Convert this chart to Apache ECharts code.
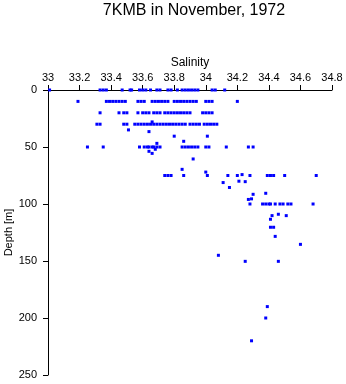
<!DOCTYPE html>
<html><head><meta charset="utf-8">
<script src="https://cdn.jsdelivr.net/npm/echarts@6/dist/echarts.min.js"></script>
<style>html,body{margin:0;padding:0;background:#fff}#c{width:346px;height:384px}</style>
</head><body><div id="c"></div>
<script>
const xTicks = [33, 33.2, 33.4, 33.6, 33.8, 34, 34.2, 34.4, 34.6, 34.8];
const yTicks = [0, 50, 100, 150, 200, 250];
const depthLevels = [0, 10, 20, 30, 50, 75, 100];
const sal0 = [33.01, 33.33, 33.35, 33.37, 33.47, 33.52, 33.53, 33.58, 33.60, 33.62, 33.65, 33.69, 33.71, 33.76, 33.78, 33.82, 33.85, 33.87, 33.89, 33.91, 33.93, 33.95, 34.04, 34.06, 34.12];
const sal10 = [33.19, 33.37, 33.39, 33.41, 33.43, 33.45, 33.47, 33.49, 33.57, 33.59, 33.61, 33.66, 33.68, 33.70, 33.72, 33.74, 33.76, 33.80, 33.82, 33.84, 33.86, 33.88, 33.90, 33.92, 33.94, 34.00, 34.02, 34.04, 34.20];
const sal20 = [33.33, 33.45, 33.48, 33.50, 33.57, 33.60, 33.62, 33.64, 33.67, 33.69, 33.71, 33.74, 33.76, 33.78, 33.80, 33.82, 33.84, 33.86, 33.88, 33.90, 33.98, 34.00, 34.02, 34.04];
const sal30 = [33.31, 33.33, 33.48, 33.50, 33.55, 33.57, 33.59, 33.61, 33.63, 33.65, 33.67, 33.69, 33.71, 33.73, 33.75, 33.77, 33.79, 33.81, 33.83, 33.85, 33.87, 33.90, 33.92, 33.94, 33.96, 33.99, 34.01, 34.03, 34.05, 34.07];
const sal50 = [33.25, 33.35, 33.58, 33.61, 33.63, 33.64, 33.66, 33.67, 33.69, 33.71, 33.85, 33.87, 33.89, 33.91, 33.93, 33.95, 34.00, 34.02, 34.13, 34.27, 34.30];
const sal75 = [33.74, 33.76, 33.78, 33.86, 34.01, 34.14, 34.20, 34.28, 34.39, 34.41, 34.43, 34.50, 34.70];
const sal100 = [34.28, 34.36, 34.38, 34.40, 34.41, 34.44, 34.47, 34.49, 34.52, 34.54, 34.68];
const otherSal = [33.66, 33.51, 33.64, 33.80, 34.01, 33.86, 33.69, 33.68, 33.64, 33.66, 33.92, 33.85, 34.00, 34.23, 34.21, 34.25, 34.11, 34.15, 34.38, 34.30, 34.27, 34.29, 34.46, 34.42, 34.51, 34.41, 34.41, 34.43, 34.44, 34.60, 34.08, 34.25, 34.46, 34.39, 34.38, 34.29];
const otherDepth = [28, 35, 36.5, 40.5, 40.5, 45, 46.8, 52, 53.8, 55.6, 60.5, 69.6, 72, 74.2, 80, 80.4, 81.2, 85.5, 90.6, 91.5, 96, 95.5, 109, 110.2, 110.2, 113.4, 120.4, 120.4, 128.4, 135.4, 145, 150.3, 150.3, 190, 200, 220];

const groups = [sal0, sal10, sal20, sal30, sal50, sal75, sal100];
const data = [];
groups.forEach((g, i) => g.forEach(s => data.push([s, depthLevels[i]])));
otherSal.forEach((s, i) => data.push([s, otherDepth[i]]));

const font = 'Liberation Sans, Arial, Helvetica, sans-serif';
const chart = echarts.init(document.getElementById('c'), null, {renderer: 'canvas'});
chart.setOption({
  animation: false,
  backgroundColor: '#fff',
  title: {
    text: '7KMB in November, 1972',
    left: 189, top: -2, textAlign: 'center',
    textStyle: {fontFamily: font, fontSize: 16, fontWeight: 'normal', color: '#000'}
  },
  grid: {left: 48, right: 14, top: 90, bottom: 9, containLabel: false, outerBoundsMode: 'none'},
  xAxis: {
    type: 'value', position: 'top', min: xTicks[0], max: xTicks[xTicks.length - 1], interval: 0.2,
    name: 'Salinity', nameLocation: 'middle', nameGap: 21, nameMoveOverlap: false,
    nameTextStyle: {fontFamily: font, fontSize: 12, color: '#000'},
    axisLine: {show: true, onZero: false, lineStyle: {color: '#000', width: 1}},
    axisTick: {show: true, length: 5, lineStyle: {color: '#000'}},
    axisLabel: {fontFamily: font, fontSize: 11, color: '#000', margin: 7,
      formatter: v => String(Math.round(v * 10) / 10)},
    splitLine: {show: false}
  },
  yAxis: {
    type: 'value', inverse: true, min: yTicks[0], max: yTicks[yTicks.length - 1], interval: 50,
    name: 'Depth [m]', nameLocation: 'middle', nameGap: 34, nameRotate: 90, nameMoveOverlap: false,
    nameTextStyle: {fontFamily: font, fontSize: 11, color: '#000'},
    axisLine: {show: true, onZero: false, lineStyle: {color: '#000', width: 1}},
    axisTick: {show: true, length: 5, lineStyle: {color: '#000'}},
    axisLabel: {fontFamily: font, fontSize: 11, color: '#000', margin: 11},
    splitLine: {show: false}
  },
  series: [{
    type: 'scatter', data: data, symbol: 'rect', symbolSize: 3,
    itemStyle: {color: '#0000ff', opacity: 1}
  }]
});
</script></body></html>
